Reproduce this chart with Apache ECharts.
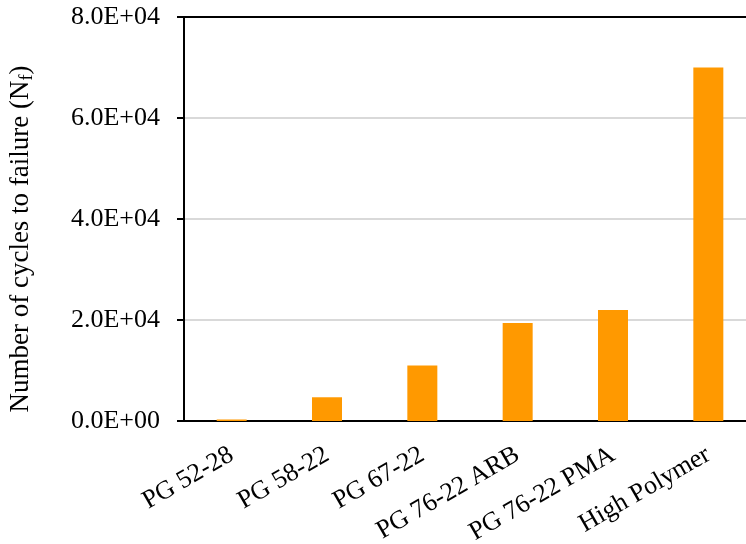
<!DOCTYPE html>
<html>
<head>
<meta charset="utf-8">
<script src="https://cdn.jsdelivr.net/npm/echarts@6/dist/echarts.min.js"></script>
<style>
  html, body { margin: 0; padding: 0; background: #fff; overflow: hidden; }
  /* the plot runs a little past the right edge of the window */
  #chart { width: 760px; height: 544px; }
</style>
</head>
<body>
<div id="chart"></div>
<script>
// Binder grades tested
const categories = ['PG 52-28', 'PG 58-22', 'PG 67-22', 'PG 76-22 ARB', 'PG 76-22 PMA', 'High Polymer'];
// Fatigue life, cycles to failure
const cyclesToFailure = [300, 4700, 11000, 19400, 22000, 70000];
// Value-axis ticks
const yTicks = [0, 20000, 40000, 60000, 80000];

const FONT = '"Liberation Serif", "Times New Roman", serif';

// Format like 2.0E+04
function sci(v) {
  if (v === 0) return '0.0E+00';
  const [m, e] = v.toExponential(1).split('e');
  const n = parseInt(e, 10);
  const sign = n < 0 ? '-' : '+';
  const abs = Math.abs(n);
  return m + 'E' + sign + (abs < 10 ? '0' + abs : abs);
}

const chart = echarts.init(document.getElementById('chart'), null, { renderer: 'canvas' });
chart.setOption({
  animation: false,
  backgroundColor: '#ffffff',
  grid: { left: 184, right: 4, top: 17, bottom: 123, containLabel: false, outerBoundsMode: 'none' },
  xAxis: [{
    type: 'category',
    data: categories,
    position: 'bottom',
    axisLine: { lineStyle: { color: '#000', width: 2 } },
    axisTick: { length: 7, lineStyle: { color: '#000', width: 2 } },
    axisLabel: { rotate: 30, fontFamily: FONT, fontSize: 26, color: '#000', margin: 32 }
  }, {
    type: 'category',
    data: categories,
    position: 'top',
    axisLine: { lineStyle: { color: '#000', width: 2 } },
    axisTick: { show: false },
    axisLabel: { show: false }
  }],
  yAxis: {
    type: 'value',
    min: yTicks[0],
    max: yTicks[yTicks.length - 1],
    interval: yTicks[1] - yTicks[0],
    name: '{a|Number of cycles to failure (N}{s|f}{a|)}',
    nameLocation: 'middle',
    nameGap: 148,
    nameTextStyle: {
      padding: [0, 40, 0, 0],
      rich: {
        a: { fontFamily: FONT, fontSize: 27, color: '#000' },
        s: { fontFamily: FONT, fontSize: 18, color: '#000', verticalAlign: 'bottom', padding: [12, 0, 0, 0] }
      }
    },
    axisLine: { show: true, lineStyle: { color: '#000', width: 2 } },
    axisTick: { show: true, length: 7, lineStyle: { color: '#000', width: 2 } },
    axisLabel: { formatter: sci, fontFamily: FONT, fontSize: 26, color: '#000', margin: 24 },
    splitLine: { lineStyle: { color: '#d9d9d9', width: 2 } }
  },
  series: [{
    type: 'bar',
    data: cyclesToFailure,
    barWidth: 30,
    itemStyle: { color: '#ff9900' }
  }]
});
</script>
</body>
</html>
